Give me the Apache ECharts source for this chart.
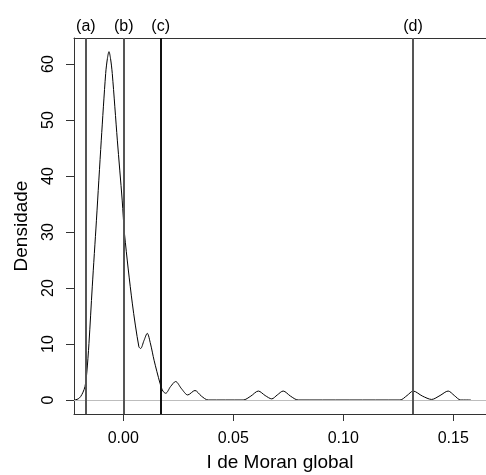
<!DOCTYPE html>
<html>
<head>
<meta charset="utf-8">
<script src="https://cdn.jsdelivr.net/npm/echarts@6/dist/echarts.min.js"></script>
<style>
  html, body { margin: 0; padding: 0; background: #fff; }
  #chart { width: 486px; height: 475px; }
</style>
</head>
<body>
<div id="chart"></div>
<script>
// densidade estimada do I de Moran global
var densX = [-0.0222, -0.0216, -0.0205, -0.0194, -0.0183, -0.0174, -0.0166, -0.0156, -0.0141, -0.0122,
  -0.0100, -0.0080, -0.0072, -0.0065, -0.0058, -0.0050, -0.0027, -0.0005, 0.0006, 0.0041,
  0.0071, 0.0079, 0.0094, 0.0109, 0.0124, 0.0140, 0.0167, 0.0180, 0.0193, 0.0215,
  0.0238, 0.0265, 0.0293, 0.0326, 0.0355, 0.0386, 0.0545, 0.0580, 0.0614, 0.0645,
  0.0675, 0.0700, 0.0727, 0.0760, 0.0795, 0.1258, 0.1290, 0.1318, 0.1360, 0.1402,
  0.1440, 0.1477, 0.1505, 0.1534, 0.1580];
var densY = [0, 0.05, 0.2, 0.6, 1.4, 2.4, 4.8, 10.1, 20.2, 32.1,
  46.4, 58.3, 61.0, 62.2, 61.0, 58.3, 46.4, 35.7, 29.5, 17.3,
  9.5, 9.2, 10.6, 11.9, 10.0, 7.1, 3.0, 1.6, 1.2, 2.4,
  3.3, 2.0, 0.9, 1.7, 0.7, 0, 0, 0.7, 1.6, 0.8,
  0.2, 0.9, 1.6, 0.7, 0, 0, 0.8, 1.6, 0.7, 0.1,
  0.8, 1.6, 0.8, 0, 0];
// linhas verticais de referencia
var refX = [-0.0170, 0.0002, 0.0170, 0.1317];
var refLabels = ['(a)', '(b)', '(c)', '(d)'];
var refColors = ['#555555', '#555555', '#111111', '#555555'];
// marcas dos eixos
var xTicks = [0, 0.05, 0.10, 0.15];
var yTicks = [0, 10, 20, 30, 40, 50, 60];

(function(){
  var myChart = echarts.init(document.getElementById('chart'));
  var curve = densX.map(function(x, i){ return [x, densY[i]]; });
  var vLines = refX.map(function(x, i){
    return {
      xAxis: x,
      lineStyle: { color: refColors[i], width: 2, type: 'solid' },
      label: { formatter: refLabels[i] }
    };
  });
  var font = 'Liberation Sans, Arial, sans-serif';
  var xMin = -0.0224, xMax = 0.1649;

  var option = {
    animation: false,
    grid: {
      left: 74,
      top: 38,
      right: 0,
      bottom: 61,
      //不让标签挤压绘图区
      outerBoundsMode: 'none'
    },
    xAxis: [
      {
        type: 'value',
        position: 'bottom',
        min: xMin,
        max: xMax,
        name: 'I de Moran global',
        nameLocation: 'middle',
        nameGap: 39,
        nameTextStyle: { fontSize: 19, color: '#000', fontFamily: font },
        axisLine: { show: true, onZero: false, lineStyle: { color: '#333', width: 1 } },
        splitLine: { show: false },
        axisTick: { show: true, customValues: xTicks, length: 7, lineStyle: { color: '#333' } },
        axisLabel: {
          customValues: xTicks,
          margin: 17,
          fontSize: 16,
          color: '#000',
          fontFamily: font,
          formatter: function(v){ return v.toFixed(2); }
        }
      },
      {
        //borda superior da caixa
        type: 'value',
        position: 'top',
        min: xMin,
        max: xMax,
        axisLine: { show: true, onZero: false, lineStyle: { color: '#333', width: 1 } },
        axisTick: { show: false },
        axisLabel: { show: false },
        splitLine: { show: false }
      }
    ],
    yAxis: {
      type: 'value',
      min: -2.5,
      max: 64.64,
      name: 'Densidade',
      nameLocation: 'middle',
      nameGap: 43,
      nameRotate: 90,
      nameTextStyle: { fontSize: 19, color: '#000', fontFamily: font },
      axisLine: { show: true, onZero: false, lineStyle: { color: '#333', width: 1 } },
      splitLine: { show: false },
      axisTick: { show: true, customValues: yTicks, length: 8, lineStyle: { color: '#333' } },
      axisLabel: {
        customValues: yTicks,
        rotate: 90,
        margin: 17,
        fontSize: 16,
        color: '#000',
        fontFamily: font
      }
    },
    series: [
      {
        name: 'densidade',
        type: 'line',
        data: curve,
        smooth: 0.3,
        showSymbol: false,
        z: 2,
        lineStyle: { color: '#000', width: 1 }
      },
      {
        name: 'zero',
        type: 'line',
        data: [],
        z: 3,
        markLine: {
          silent: true,
          symbol: 'none',
          precision: 4,
          label: { show: false },
          lineStyle: { color: '#bdbdbd', width: 1, type: 'solid' },
          data: [{ yAxis: 0 }]
        }
      },
      {
        name: 'referencias',
        type: 'line',
        data: [],
        z: 4,
        markLine: {
          silent: true,
          symbol: 'none',
          precision: 4,
          label: {
            show: true,
            position: 'end',
            distance: 3,
            fontSize: 16,
            color: '#000',
            fontFamily: font
          },
          data: vLines
        }
      }
    ]
  };
  myChart.setOption(option);
  window.addEventListener('resize', function(){
    myChart.resize();
  });
})();
</script>
</body>
</html>
